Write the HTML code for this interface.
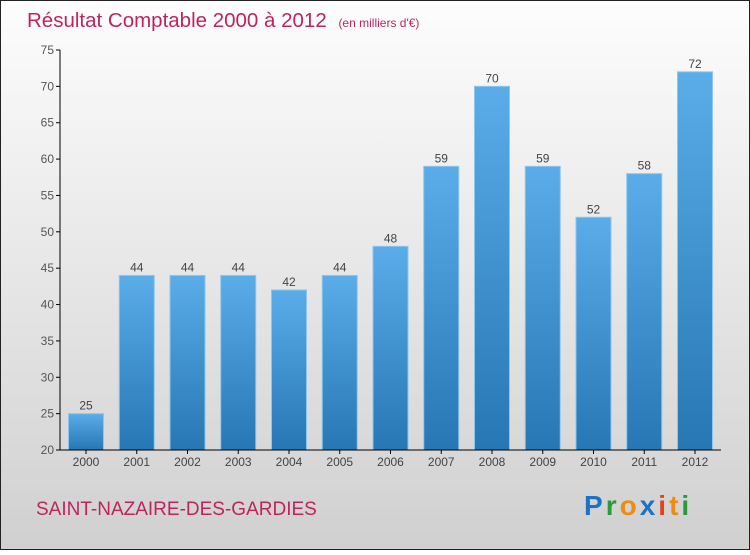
<!DOCTYPE html>
<html><head><meta charset="utf-8"><style>
body{margin:0}
#c{position:relative;width:750px;height:550px;font-family:"Liberation Sans",sans-serif}
</style></head><body>
<div id="c">
<svg id="s" width="750" height="550" xmlns="http://www.w3.org/2000/svg">
<defs>
<linearGradient id="bg" x1="0" y1="0" x2="0" y2="1"><stop offset="0" stop-color="#fdfdfd"/><stop offset="1" stop-color="#d0d0d0"/></linearGradient>
<linearGradient id="bar" x1="0" y1="0" x2="0" y2="1"><stop offset="0" stop-color="#5aade8"/><stop offset="1" stop-color="#2677b4"/></linearGradient>
</defs>
<rect x="0.5" y="0.5" width="749" height="549" fill="url(#bg)" stroke="#222"/>
<text x="27" y="27" font-size="20.5" fill="#c0245c">Résultat Comptable 2000 à 2012 <tspan font-size="12" dx="6">(en milliers d'€)</tspan></text>
<g id="plot"></g>
<text x="36" y="515" font-size="19" fill="#c0245c">SAINT-NAZAIRE-DES-GARDIES</text>
<text x="584" y="515" font-size="28" font-weight="bold" letter-spacing="3"><tspan fill="#1a73c8">P</tspan><tspan fill="#2a9a3a">r</tspan><tspan fill="#f08a10">o</tspan><tspan fill="#1a73c8">x</tspan><tspan fill="#e8401a">i</tspan><tspan fill="#f08a10">t</tspan><tspan fill="#2a9a3a">i</tspan></text>
</svg></div>
<script>
const years=["2000","2001","2002","2003","2004","2005","2006","2007","2008","2009","2010","2011","2012"];
const values=[25,44,44,44,42,44,48,59,70,59,52,58,72];
const yTicks=[20,25,30,35,40,45,50,55,60,65,70,75];
const NS="http://www.w3.org/2000/svg";
const g=document.getElementById('plot');
const y=v=>450-(v-20)*400/55;
const x=i=>86+i*50.75;
function el(t,a){const e=document.createElementNS(NS,t);for(const k in a)e.setAttribute(k,a[k]);g.appendChild(e);return e;}
yTicks.forEach(t=>{
 const l=el('line',{x1:56,x2:60,y1:y(t),y2:y(t),stroke:'#000'});
 
 
 const tx=el('text',{x:54,y:y(t)+4,'font-size':12,fill:'#555','text-anchor':'end'});tx.textContent=t;
 
 
});
values.forEach((v,i)=>{
 const r=el('rect',{x:x(i)-17.5,y:y(v),width:35,height:450-y(v),fill:'url(#bar)',stroke:'#8cc6ee','stroke-width':1});
 
 
 const t=el('text',{x:x(i),y:y(v)-4,'font-size':12,fill:'#444','text-anchor':'middle'});t.textContent=v;
 
 
 const yl=el('text',{x:x(i),y:466,'font-size':12,fill:'#444','text-anchor':'middle'});yl.textContent=years[i];
 
 
 const tk=el('line',{x1:x(i),x2:x(i),y1:450,y2:454,stroke:'#000'});
 
 
});
const ya=el('line',{x1:60,x2:60,y1:50,y2:450,stroke:'#000'});


const xa=el('line',{x1:60,x2:721,y1:450,y2:450,stroke:'#000'});


</script>
</body></html>
